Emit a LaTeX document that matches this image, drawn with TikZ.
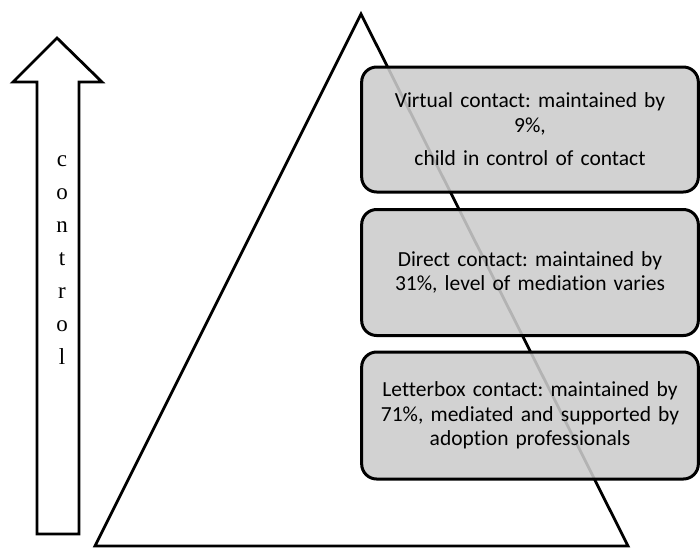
\documentclass[tikz,border=0pt]{standalone}
\usepackage{fontspec}
\setmainfont{Liberation Serif}
\newfontfamily\boxfont[Ligatures=NoCommon]{Carlito}
\frenchspacing
\begin{document}
\begin{tikzpicture}[x=1pt,y=-1pt]
        \tikzstyle{level}=[rectangle,rounded corners=15pt,line width=3pt,draw=black,fill=black!20,fill opacity=0.88,text opacity=1,minimum width=334pt,text width=330pt,align=center,font=\boxfont\fontsize{21.5}{24.5}\selectfont]
        \tikzstyle{outline}=[line width=2.8pt,draw=black,line join=miter]

        \useasboundingbox (0,0) rectangle (700,547);

        % pyramid
        \draw[outline] (361,14) -- (628,546) -- (95,546) -- cycle;

        % control arrow
        \draw[outline,fill=white] (57,38) -- (102,82) -- (79,82) -- (79,534) -- (37,534) -- (37,82) -- (13,82) -- cycle;
        \node [font=\fontsize{23}{33}\selectfont,align=center] (ctrl) at (62,260) {c\\o\\n\\t\\r\\o\\l};

        % contact levels
        \node [level,minimum height=125pt] (virtual) at (530,129.5) {Virtual contact: maintained by\\9\%,\\[9pt]child in control of contact};
        \node [level,minimum height=126pt] (direct) at (530,272.5) {Direct contact: maintained by\\31\%, level of mediation varies};
        \node [level,minimum height=127pt] (letterbox) at (530,415.5) {Letterbox contact: maintained by\\71\%, mediated and supported by\\adoption professionals};

      \end{tikzpicture}
\end{document}
